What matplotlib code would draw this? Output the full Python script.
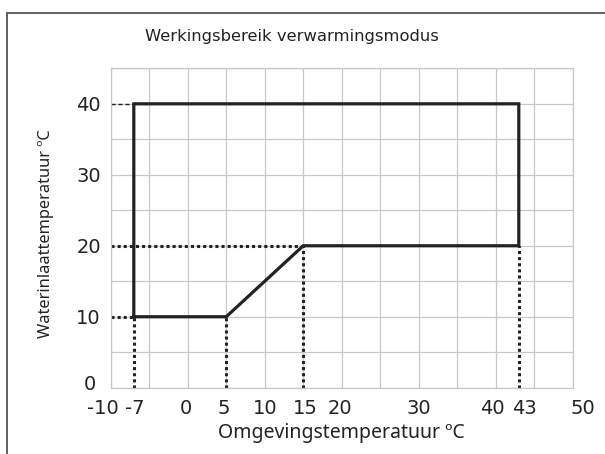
import matplotlib
matplotlib.use("Agg")
import matplotlib.pyplot as plt
import matplotlib.transforms as mtransforms
from matplotlib.patches import Rectangle
from matplotlib.ticker import MultipleLocator

plt.rcParams['font.family'] = ['DejaVu Sans']
plt.rcParams['axes.unicode_minus'] = False

# operating envelope (ambient temp, water inlet temp)
env_x = [-7, 5, 15, 43, 43, -7, -7]
env_y = [10, 10, 20, 20, 40, 40, 10]

# corner points that get dotted guide lines
drop_x = [-7, 5, 15, 43]
drop_y = [10, 10, 20, 20]
left_x = [-7, 15]
left_y = [10, 20]
top_x = -7
top_y = 40

x_ticks = [-10, -7, 0, 5, 10, 15, 20, 30, 40, 43, 50]
y_ticks = [0, 10, 20, 30, 40]

title = 'Werkingsbereik verwarmingsmodus'
xlabel = 'Omgevingstemperatuur ºC'
ylabel = 'Waterinlaattemperatuur ºC'

txt = '#222222'
fig = plt.figure(figsize=(6.05, 4.54), dpi=100)
ax = fig.add_axes([0.183, 0.146, 0.7636, 0.7035])

# outer frame
fig.patches.append(Rectangle((7 / 605, -0.1), 1.0, 1.1 - 13 / 454, transform=fig.transFigure,
                             fill=False, edgecolor='#555555', linewidth=1.3))

ax.set_xlim(-10, 50)
ax.set_ylim(0, 45)

# dotted guides
for x, y in zip(drop_x, drop_y):
    ax.plot([x, x], [0, y], color=txt, lw=2.2, linestyle=(0, (1, 1)), zorder=2)
for x, y in zip(left_x, left_y):
    ax.plot([-10, x], [y, y], color=txt, lw=2.2, linestyle=(0, (1, 1)), zorder=2)
ax.plot([-10, top_x], [top_y, top_y], color=txt, lw=1.0, linestyle=(0, (3, 2)), zorder=2)

ax.plot(env_x, env_y, color=txt, lw=2.3, solid_joinstyle='miter', zorder=3)

ax.xaxis.set_minor_locator(MultipleLocator(5))
ax.yaxis.set_minor_locator(MultipleLocator(5))
ax.xaxis.remove_overlapping_locs = False
ax.yaxis.remove_overlapping_locs = False
ax.grid(which='minor', color='#c8c8c8', lw=0.9)
ax.set_axisbelow(True)
ax.set_xticks(x_ticks)
ax.set_yticks(y_ticks)
ax.tick_params(which='both', length=0)
ax.tick_params(axis='x', pad=8, labelsize=14, labelcolor=txt)
ax.tick_params(axis='y', pad=7, labelsize=14, labelcolor=txt)
for s in ax.spines.values():
    s.set_color('#c8c8c8')
    s.set_linewidth(0.9)


def nudge(lab, dx, dy):
    lab.set_transform(lab.get_transform() + mtransforms.ScaledTranslation(dx / 100, dy / 100, fig.dpi_scale_trans))


# nudge crowded tick labels like the original
xshift = {-10: -8, -7: 1, 0: -2, 5: -2, 15: 2, 20: -2, 40: -3, 43: 6, 50: 10}
for lab, val in zip(ax.get_xticklabels(), x_ticks):
    if val in xshift:
        nudge(lab, xshift[val], 0)
for lab, val in zip(ax.get_yticklabels(), y_ticks):
    if val == 0:
        nudge(lab, -5, 5)

fig.text(292 / 605, 1 - 37 / 454, title, fontsize=11.8, color=txt, ha='center', va='center')
# Noto Sans draws º without the underline, as in the original
ax.set_xlabel(xlabel, fontsize=14, color=txt, labelpad=4, family='Noto Sans')
ax.set_ylabel(ylabel, fontsize=11.8, color=txt, family='Noto Sans')
ax.yaxis.set_label_coords(-0.122, 0.482)

fig.savefig('out.png', dpi=100)
